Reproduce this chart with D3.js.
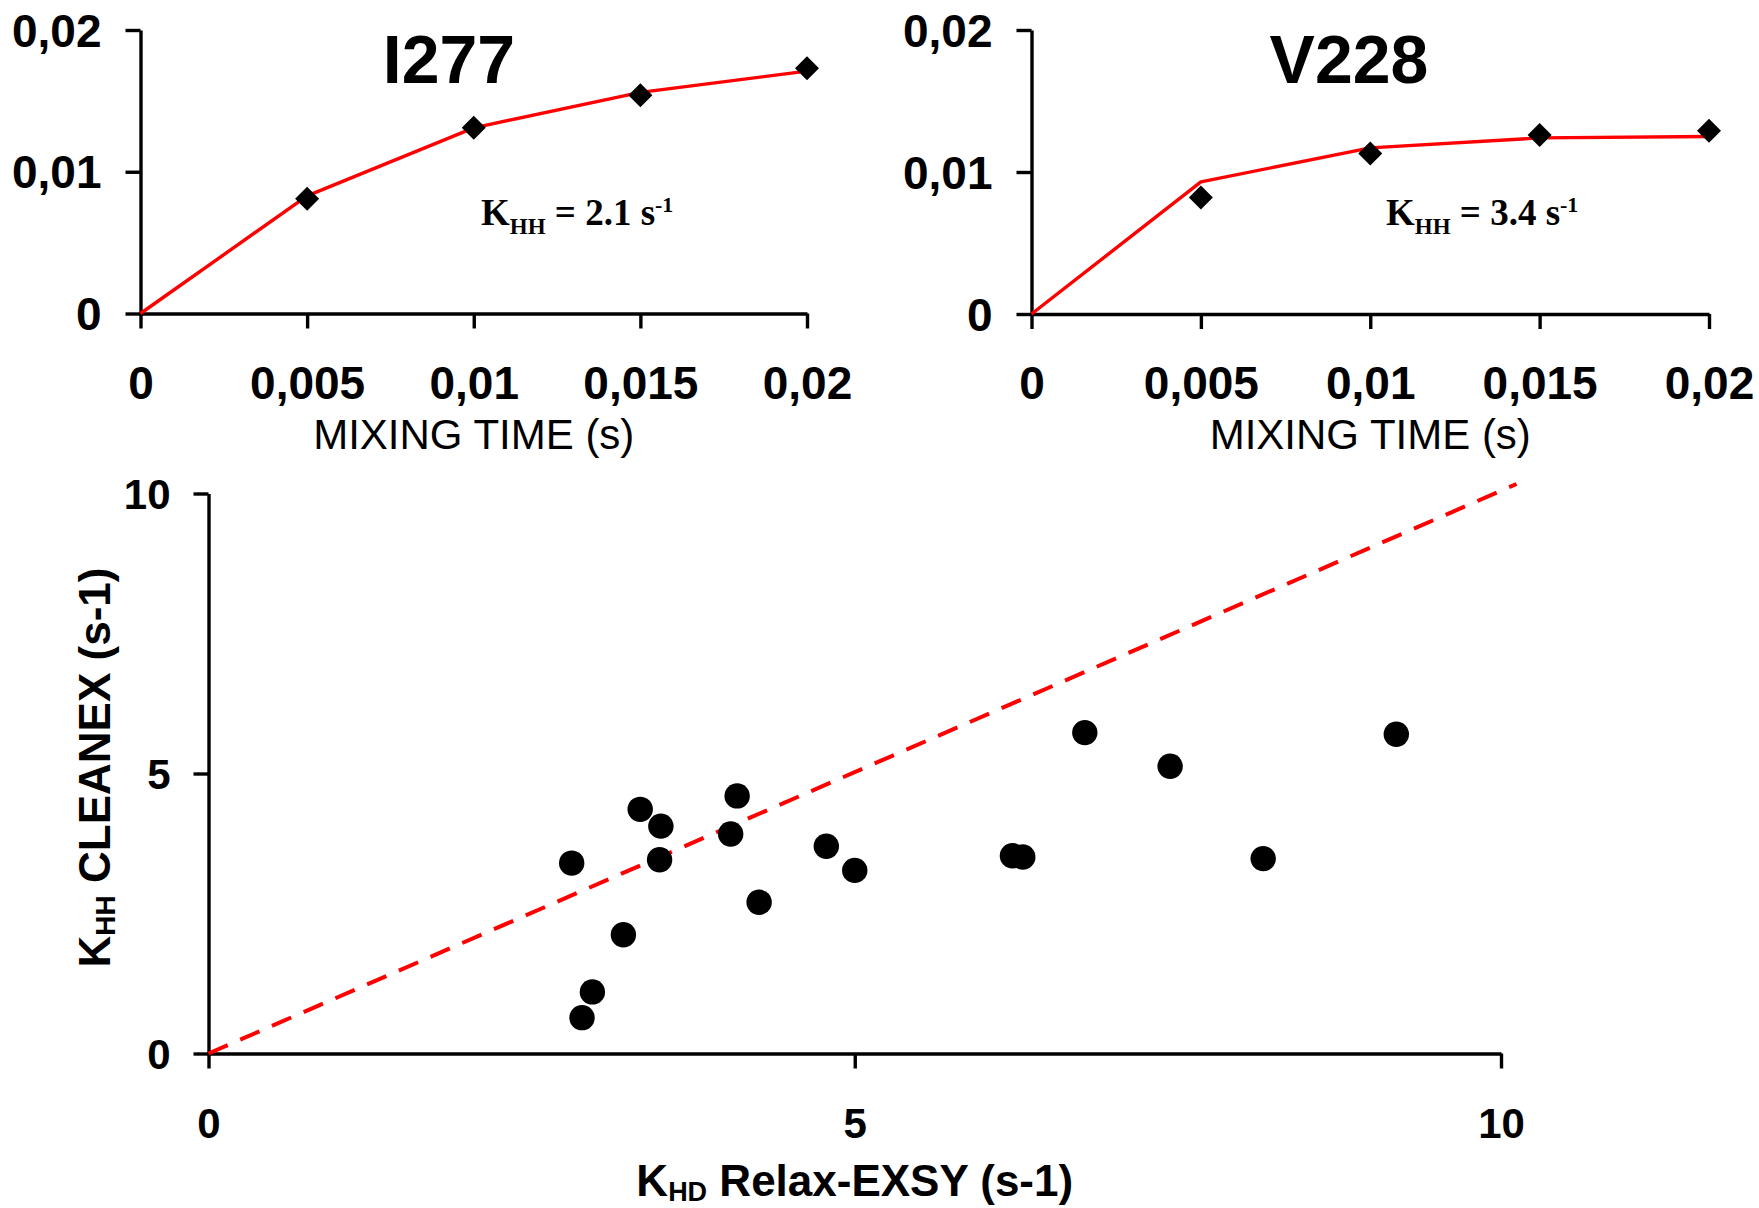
<!DOCTYPE html>
<html>
<head>
<meta charset="utf-8">
<script src="https://cdn.jsdelivr.net/npm/d3@7"></script>
<style>
  html, body { margin: 0; padding: 0; background: #fff; }
  svg { display: block; }
</style>
</head>
<body>
<svg id="chart" width="1759" height="1208"></svg>
<script>
// ---------- DATA ----------
const mixingTime = [0, 0.005, 0.01, 0.015, 0.02];
const mixingTickLabels = ["0", "0,005", "0,01", "0,015", "0,02"];
const intensityTicks = [0, 0.01, 0.02];
const intensityTickLabels = ["0", "0,01", "0,02"];

const i277Measured = [null, 0.0081, 0.0131, 0.0154, 0.0173];
const i277Fit      = [0, 0.0083, 0.0131, 0.0156, 0.0171];
const v228Measured = [null, 0.0082, 0.0113, 0.0126, 0.0129];
const v228Fit      = [0, 0.0093, 0.0117, 0.0124, 0.0125];

const panelTitles = ["I277", "V228"];
const panelRates  = ["2.1", "3.4"];

const khdRelaxExsy = [2.81, 2.89, 2.97, 3.21, 3.34, 3.49, 3.50, 4.04, 4.09, 4.26, 4.78, 5.00, 6.22, 6.30, 6.78, 7.44, 8.16, 9.19];
const khhCleanex   = [3.40, 0.64, 1.10, 2.12, 4.36, 3.46, 4.06, 3.92, 4.60, 2.70, 3.70, 3.27, 3.53, 3.51, 5.73, 5.13, 3.48, 5.70];
const identityX = [0, 10.12];
const identityY = [0, 10.17];
const rateTicks = [0, 5, 10];
const rateTickLabels = ["0", "5", "10"];

// ---------- DRAW ----------
const svg = d3.select("#chart");
const SANS = "'Liberation Sans', Arial, Helvetica, sans-serif";
const SERIF = "'Liberation Serif', 'Times New Roman', serif";

function styleAxis(g, fontSize) {
  g.select(".domain").attr("stroke", "#000").attr("stroke-width", 3.4);
  g.selectAll(".tick line").attr("stroke", "#000").attr("stroke-width", 3.4);
  g.selectAll(".tick text")
    .attr("fill", "#000")
    .style("font-family", SANS)
    .style("font-weight", "bold")
    .style("font-size", fontSize + "px");
}

function drawPanel(cfg) {
  const x = d3.scaleLinear().domain([0, 0.02]).range([cfg.x0, cfg.x1]);
  const y = d3.scaleLinear().domain([0, 0.02]).range([cfg.y0, cfg.y1]);
  const g = svg.append("g");

  const xa = g.append("g").attr("transform", `translate(0,${cfg.y0})`)
    .call(d3.axisBottom(x).tickValues(mixingTime).tickSize(15).tickSizeOuter(0)
      .tickFormat((d, i) => mixingTickLabels[i]));
  styleAxis(xa, 46);
  xa.selectAll(".tick text").attr("y", 85).attr("dy", 0);

  const ya = g.append("g").attr("transform", `translate(${cfg.x0},0)`)
    .call(d3.axisLeft(y).tickValues(intensityTicks).tickSize(15).tickPadding(24).tickSizeOuter(0)
      .tickFormat((d, i) => intensityTickLabels[i]));
  styleAxis(ya, 46);
  ya.selectAll(".tick text").attr("dy", "0.35em");

  // fit line
  const line = d3.line().x((d, i) => x(mixingTime[i])).y(d => y(d));
  g.append("path").datum(cfg.fit)
    .attr("d", line).attr("fill", "none")
    .attr("stroke", "#ff0000").attr("stroke-width", 3.4)
    .attr("stroke-linejoin", "round");

  // diamonds
  const pts = cfg.measured.map((v, i) => ({t: mixingTime[i], v})).filter(d => d.v !== null);
  const s = 17; // square side before 45° rotation
  g.selectAll("path.pt").data(pts).join("path")
    .attr("class", "pt")
    .attr("transform", d => `translate(${x(d.t)},${y(d.v)}) rotate(45)`)
    .attr("d", `M${-s/2},${-s/2}h${s}v${s}h${-s}Z`)
    .attr("fill", "#000");

  // title
  g.append("text").attr("x", cfg.titleX).attr("y", 83)
    .attr("text-anchor", "middle")
    .style("font-family", SANS).style("font-weight", "bold").style("font-size", "68px")
    .text(cfg.title);

  // x axis label
  g.append("text").attr("x", x(0.01)).attr("y", 449)
    .attr("text-anchor", "middle")
    .style("font-family", SANS).style("font-size", "42px")
    .text("MIXING TIME (s)");

  // rate annotation
  const t = g.append("text").attr("x", cfg.annX).attr("y", 225)
    .style("font-family", SERIF).style("font-weight", "bold").style("font-size", "37px");
  t.append("tspan").text("K");
  t.append("tspan").attr("dy", 9).style("font-size", "23px").text("HH");
  t.append("tspan").attr("dy", -9).text(" = " + cfg.rate + " s");
  t.append("tspan").attr("dy", -13).style("font-size", "22px").text("-1");
}

drawPanel({x0: 140.5, x1: 807, y0: 313.5, y1: 30, measured: i277Measured, fit: i277Fit,
  title: panelTitles[0], titleX: 449, rate: panelRates[0], annX: 481});
drawPanel({x0: 1031.5, x1: 1709, y0: 314, y1: 30, measured: v228Measured, fit: v228Fit,
  title: panelTitles[1], titleX: 1349, rate: panelRates[1], annX: 1386});

// ---------- bottom scatter ----------
(function () {
  const x = d3.scaleLinear().domain([0, 10]).range([208.5, 1501]);
  const y = d3.scaleLinear().domain([0, 10]).range([1053.5, 493.5]);
  const g = svg.append("g");

  const xa = g.append("g").attr("transform", `translate(0,${y(0)})`)
    .call(d3.axisBottom(x).tickValues(rateTicks).tickSize(15).tickSizeOuter(0)
      .tickFormat((d, i) => rateTickLabels[i]));
  styleAxis(xa, 42);
  xa.selectAll(".tick text").attr("y", 84.5).attr("dy", 0);

  const ya = g.append("g").attr("transform", `translate(${x(0)},0)`)
    .call(d3.axisLeft(y).tickValues(rateTicks).tickSize(15).tickPadding(23).tickSizeOuter(0)
      .tickFormat((d, i) => rateTickLabels[i]));
  styleAxis(ya, 42);
  ya.selectAll(".tick text").attr("dy", "0.35em");

  // identity dashed line
  g.append("line")
    .attr("x1", x(identityX[0])).attr("y1", y(identityY[0]))
    .attr("x2", x(identityX[1])).attr("y2", y(identityY[1]))
    .attr("stroke", "#ff0000").attr("stroke-width", 4)
    .attr("stroke-dasharray", "21,13.6");

  // points
  g.selectAll("circle").data(khdRelaxExsy).join("circle")
    .attr("cx", d => x(d))
    .attr("cy", (d, i) => y(khhCleanex[i]))
    .attr("r", 12.7)
    .attr("fill", "#000");

  // x title
  const xt = g.append("text").attr("x", x(5)).attr("y", 1196)
    .attr("text-anchor", "middle")
    .style("font-family", SANS).style("font-weight", "bold").style("font-size", "44px");
  xt.append("tspan").text("K");
  xt.append("tspan").attr("dy", 5).style("font-size", "27px").text("HD");
  xt.append("tspan").attr("dy", -5).text(" Relax-EXSY (s-1)");

  // y title
  const yt = g.append("text")
    .attr("transform", `translate(110,${y(5) - 6}) rotate(-90)`)
    .attr("text-anchor", "middle")
    .style("font-family", SANS).style("font-weight", "bold").style("font-size", "44px");
  yt.append("tspan").text("K");
  yt.append("tspan").attr("dy", 5).style("font-size", "28px").text("HH");
  yt.append("tspan").attr("dy", -5).text(" CLEANEX (s-1)");
})();
</script>
</body>
</html>
